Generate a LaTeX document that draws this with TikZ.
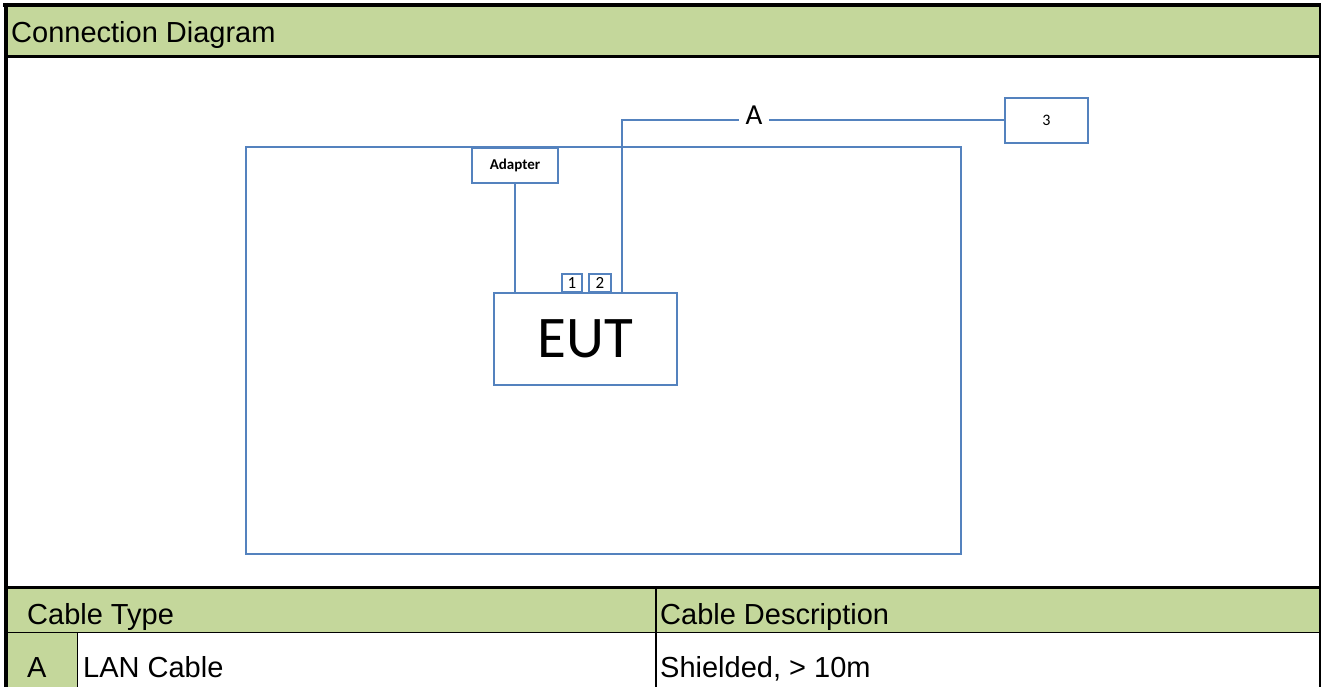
\documentclass[tikz,border=0pt]{standalone}
\usepackage{fontspec}
\setmainfont{Liberation Sans}
\newfontfamily\calfont{Carlito}
\definecolor{cblue}{RGB}{84,130,190}
\definecolor{cgreen}{RGB}{196,215,155}
\begin{document}
\begin{tikzpicture}[x=1pt,y=-1pt,
  box/.style={draw=cblue, line width=2pt, fill=white, anchor=north west, inner sep=0pt, font=\calfont},
  wire/.style={draw=cblue, line width=2pt},
  cell/.style={anchor=base west, inner sep=0pt, font=\fontsize{29}{32}\selectfont}]
\useasboundingbox (0,0) rectangle (1321,687);
\fill[white] (0,0) rectangle (1321,687);
% green fills
\fill[cgreen] (8,7) rectangle (1319,56);
\fill[cgreen] (8,588) rectangle (1319,632);
\fill[cgreen] (8,633) rectangle (77,687);
% table lines
\draw[line width=4pt] (3,5) -- (1321,5);
\draw[line width=4pt] (6,3) -- (6,687);
\draw[line width=2pt] (1320,4) -- (1320,687);
\draw[line width=3pt] (6,57) -- (1320,57);
\draw[line width=3pt] (6,587) -- (1320,587);
\draw[line width=1.3pt] (6,632.5) -- (1320,632.5);
\draw[line width=1.3pt] (656,587) -- (656,687);
\draw[line width=1.3pt] (77.5,632.5) -- (77.5,687);
% texts
\node[cell] (title) at (11,43) {Connection Diagram};
\node[cell] (ct) at (27,624) {Cable Type};
\node[cell] (cd) at (660,624) {Cable Description};
\node[cell] (ca) at (27,677) {A};
\node[cell] (cl) at (83,677) {LAN Cable};
\node[cell] (cs) at (660,677) {Shielded, > 10m};
% diagram
\node[box, minimum width=715, minimum height=407] (room) at (245,146) {};
\node[box, minimum width=86, minimum height=35, font=\calfont\bfseries\fontsize{15}{17}\selectfont] (adapter) at (471,147) {Adapter};
\node[box, minimum width=183, minimum height=92, font=\calfont\fontsize{59}{62}\selectfont] (eut) at (493,292) {EUT};
\node[box, minimum width=20, minimum height=18, font=\calfont\fontsize{17}{18}\selectfont] (p1) at (561,273) {1};
\node[box, minimum width=22, minimum height=18, font=\calfont\fontsize{17}{18}\selectfont] (p2) at (588,273) {2};
\node[box, minimum width=83, minimum height=45, font=\calfont\fontsize{16}{17}\selectfont] (b3) at (1004,97) {3};
\coordinate (cabA) at (622,292);
\draw[wire] (adapter.south) -- (adapter.south |- eut.north);
\draw[wire] (cabA) |- (b3.west);
\node[fill=white, inner xsep=7pt, inner ysep=1pt, font=\calfont\fontsize{29}{30}\selectfont] (lblA) at (754,115.5) {A};
\end{tikzpicture}
\end{document}
